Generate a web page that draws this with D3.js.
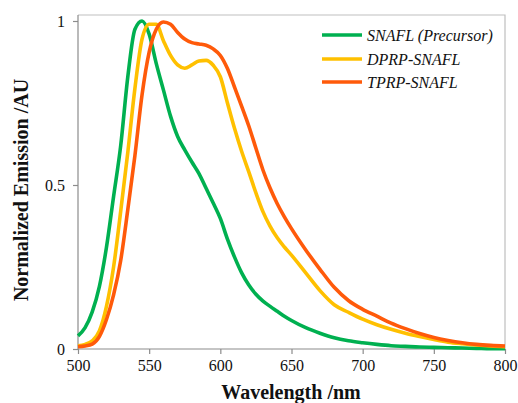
<!DOCTYPE html>
<html>
<head>
<meta charset="utf-8">
<script src="https://cdn.jsdelivr.net/npm/d3@7"></script>
<style>
  html, body { margin: 0; padding: 0; background: #fff; }
  svg { display: block; }
  svg text { font-family: "Liberation Serif", "Times New Roman", "DejaVu Serif", serif !important; fill: #111; }
</style>
</head>
<body>
<svg id="chart" width="518" height="403"></svg>
<script>
const wavelengths = [500,505,510,515,520,525,530,535,540,545,550,555,560,565,570,575,580,585,590,595,600,605,610,615,620,625,630,635,640,645,650,660,670,680,690,700,710,720,730,740,750,760,770,780,790,800];
const snafl = [0.04,0.065,0.113,0.19,0.31,0.465,0.62,0.83,0.975,1.0,0.96,0.87,0.79,0.71,0.648,0.607,0.57,0.535,0.49,0.445,0.398,0.335,0.28,0.232,0.195,0.167,0.146,0.13,0.115,0.1,0.087,0.065,0.048,0.034,0.025,0.019,0.014,0.01,0.008,0.006,0.005,0.004,0.003,0.002,0.001,0.001];
const dprp = [0.01,0.014,0.025,0.055,0.13,0.25,0.42,0.60,0.795,0.945,0.99,0.99,0.94,0.895,0.866,0.856,0.866,0.878,0.88,0.865,0.83,0.75,0.672,0.602,0.54,0.476,0.418,0.374,0.339,0.311,0.286,0.232,0.178,0.135,0.112,0.091,0.074,0.06,0.048,0.038,0.029,0.021,0.016,0.012,0.009,0.007];
const tprp = [0.007,0.009,0.015,0.038,0.09,0.165,0.27,0.425,0.59,0.775,0.905,0.975,0.997,0.99,0.965,0.945,0.934,0.93,0.926,0.915,0.895,0.855,0.798,0.74,0.68,0.612,0.545,0.49,0.443,0.403,0.367,0.302,0.243,0.188,0.148,0.121,0.1,0.079,0.062,0.047,0.035,0.026,0.019,0.014,0.011,0.009];
const seriesNames = ["SNAFL (Precursor)", "DPRP-SNAFL", "TPRP-SNAFL"];
const seriesColors = ["#00B050", "#FFC000", "#FF5A0A"];
const xTicks = [500,550,600,650,700,750,800];
const yTicks = [0, 0.5, 1];
const yTickLabels = ["0", "0.5", "1"];

const svg = d3.select("#chart");
const L = 78, R = 505, T = 15, B = 349;
const x = d3.scaleLinear().domain([500, 800]).range([L, R]);
const y = d3.scaleLinear().domain([0, 1]).range([B, 21]);

svg.append("path")
  .attr("d", `M${L},${T}H${R}V${B}`)
  .attr("fill", "none").attr("stroke", "#BFBFBF").attr("stroke-width", 1.2);

const gx = svg.append("g").attr("transform", `translate(0,${B})`)
  .call(d3.axisBottom(x).tickValues(xTicks).tickSize(5).tickSizeOuter(0).tickPadding(6));
const gy = svg.append("g").attr("transform", `translate(${L},0)`)
  .call(d3.axisLeft(y).tickValues(yTicks).tickFormat((d,i) => yTickLabels[i]).tickSize(5).tickSizeOuter(0).tickPadding(8));

[gx, gy].forEach(g => {
  g.attr("font-family", null).attr("font-size", null);
  g.select(".domain").attr("stroke", "#8C8C8C").attr("stroke-width", 1.2);
  g.selectAll(".tick line").attr("stroke", "#8C8C8C").attr("stroke-width", 1.2);
  g.selectAll("text").style("font-size", "16px");
});
gy.select(".domain").attr("d", `M0,${T}V${B}`);
gx.select(".domain").attr("d", `M${L},0H${R}`);

const line = d3.line().x((d,i) => x(wavelengths[i])).y(d => y(d)).curve(d3.curveMonotoneX);
[snafl, dprp, tprp].forEach((vals, k) => {
  svg.append("path").datum(vals)
    .attr("d", line)
    .attr("fill", "none")
    .attr("stroke", seriesColors[k])
    .attr("stroke-width", 3.6)
    .attr("stroke-linejoin", "round");
});

const legendY = [35, 59, 82];
seriesNames.forEach((name, k) => {
  svg.append("line").attr("x1", 322).attr("x2", 362)
    .attr("y1", legendY[k]).attr("y2", legendY[k])
    .attr("stroke", seriesColors[k]).attr("stroke-width", 3.6);
  svg.append("text").attr("x", 367).attr("y", legendY[k] + 5.5)
    .style("font-style", "italic").style("font-size", "16px")
    .text(name);
});

svg.append("text").attr("x", 291).attr("y", 399).attr("text-anchor", "middle")
  .style("font-weight", "bold").style("font-size", "20px")
  .text("Wavelength /nm");
svg.append("text").attr("transform", "translate(28,190) rotate(-90)").attr("text-anchor", "middle")
  .style("font-weight", "bold").style("font-size", "20px")
  .text("Normalized Emission /AU");
</script>
</body>
</html>
